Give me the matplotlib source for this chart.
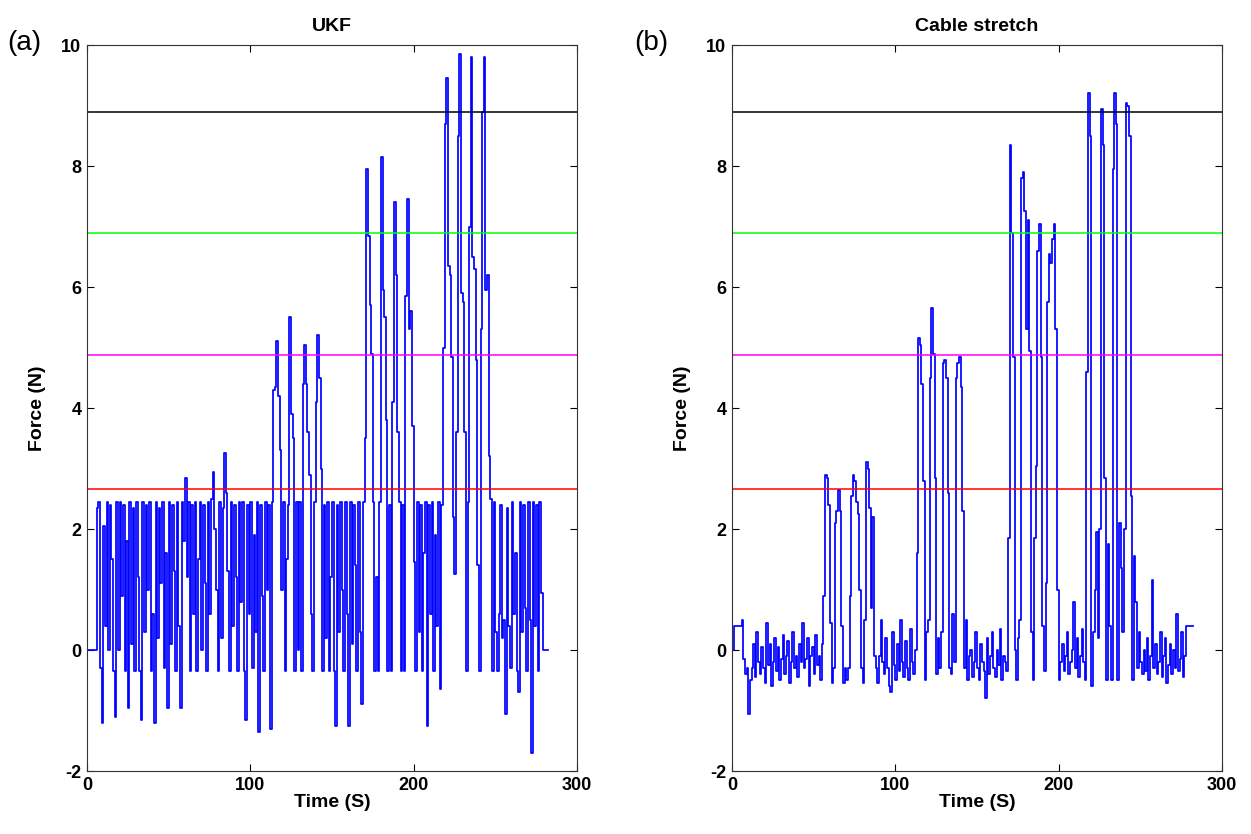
import numpy as np
import matplotlib.pyplot as plt

# --- force estimates, one value per second ---
ukf_force = [
    0, 0, 0, 0, 0, 0, 2.35, 2.45, -0.3, -1.2,
    2.05, 0.4, 2.45, 0, 2.4, 1.5, -0.35, -1.1, 2.45, 0,
    2.45, 0.9, 2.4, -0.35, 1.8, -0.95, 2.45, 0.1, 2.35, -0.35,
    2.45, 1.2, -0.35, -1.15, 2.45, 0.3, 2.4, 1.0, 2.45, -0.35,
    0.6, -1.2, 2.45, 0.2, 2.35, 1.1, 2.45, -0.3, 1.6, -0.95,
    2.45, 0.1, 2.4, 1.3, -0.35, 2.45, 0.4, -0.95, 2.45, 1.8,
    2.85, 1.2, 2.45, -0.35, 2.4, 0.6, 2.45, -0.35, 1.5, 2.45,
    0.0, 2.4, 1.1, -0.35, 2.45, 0.6, 2.5, 2.95, 2.0, 1.0,
    -0.35, 2.45, 0.2, 2.35, 3.25, 2.6, 1.3, -0.35, 2.45, 0.4,
    2.4, 1.2, -0.35, 2.45, 0.8, 2.45, -0.35, -1.15, 2.4, 0.6,
    2.45, -0.3, 1.9, 0.3, 2.45, -1.35, 2.4, 0.9, -0.35, 2.45,
    1.0, 2.4, -1.3, 2.45, 4.3, 4.35, 5.1, 4.2, 3.3, 1.0,
    2.45, -0.35, 1.5, 2.4, 5.5, 3.9, 3.5, -0.35, 2.45, 0.0,
    2.45, -0.35, 4.4, 5.05, 4.4, 3.6, 2.9, 0.6, -0.35, 2.45,
    4.1, 5.2, 4.5, 3.0, -0.35, 2.4, 0.2, 2.45, -0.35, 1.2,
    2.45, -0.35, -1.25, 2.4, 0.3, 2.45, 1.0, -0.35, 2.45, 0.6,
    -1.25, 2.45, 0.1, 2.4, 1.4, -0.35, 2.45, 0.3, -0.9, 2.45,
    3.5, 7.95, 6.85, 5.7, 4.9, 2.45, -0.35, 1.2, -0.35, 2.45,
    8.15, 5.95, 5.5, 3.8, -0.35, 2.4, -0.35, 4.1, 7.4, 6.2,
    3.6, 2.45, -0.35, 2.4, -0.35, 5.85, 7.45, 5.3, 5.6, 3.7,
    1.45, -0.35, 2.45, 0.3, 2.4, -0.35, 1.6, 2.45, -1.25, 2.4,
    0.6, 2.45, -0.35, 1.9, 0.4, 2.45, -0.65, 2.4, 5.0, 8.7,
    9.45, 6.35, 6.2, 4.85, 2.2, 1.25, 3.6, 8.5, 9.85, 5.9,
    5.75, 3.6, -0.35, 2.45, 7.0, 9.8, 6.5, 6.3, 4.8, 1.4,
    -0.35, 5.3, 8.9, 9.8, 5.95, 6.2, 3.2, 2.5, -0.35, 2.45,
    0.3, -0.35, 0.6, 2.4, 0.2, 0.5, -1.05, 2.35, 0.4, -0.3,
    2.45, 0.6, 1.6, -0.35, -0.7, 2.45, 0.3, 2.4, 0.7, -0.35,
    2.45, 0.5, -1.7, 2.45, 0.4, 2.4, -0.35, 2.45, 0.95, 0,
    0, 0, 0,
]

cable_force = [
    0.0, 0.4, 0.4, 0.4, 0.4, 0.4, 0.5, -0.15, -0.4, -0.3,
    -1.05, -0.5, -0.3, 0.1, -0.45, 0.3, -0.2, -0.4, 0.05, -0.3,
    -0.55, 0.45, -0.25, 0.1, -0.6, -0.2, 0.2, -0.35, 0.05, -0.5,
    -0.15, 0.25, -0.4, -0.1, 0.15, -0.55, -0.2, 0.3, -0.3, -0.1,
    -0.45, 0.1, -0.2, 0.45, -0.3, -0.15, 0.2, -0.6, -0.1, 0.05,
    -0.4, 0.25, -0.25, -0.1, -0.5, 0.1, 0.9, 2.9, 2.85, 2.4,
    0.45, -0.55, -0.3, 2.1, 2.3, 2.65, 2.3, 0.4, -0.55, -0.3,
    -0.5, -0.3, 0.9, 2.55, 2.9, 2.8, 2.45, 2.25, 1.0, -0.3,
    -0.55, 0.5, 3.1, 3.0, 2.35, 0.7, 2.2, -0.1, -0.3, -0.55,
    -0.1, 0.5, -0.2, -0.4, 0.2, -0.3, -0.6, -0.7, 0.3, -0.25,
    -0.5, 0.1, -0.35, 0.5, -0.2, -0.45, 0.15, -0.3, -0.5, 0.35,
    -0.2, -0.4, 0.0, 1.6, 5.15, 5.05, 4.4, 2.8, -0.5, 0.3,
    0.5, 4.5, 5.65, 4.9, 2.85, -0.4, 0.2, -0.3, 0.3, 4.75,
    4.8, 4.5, 2.6, -0.3, -0.4, 0.6, -0.2, 4.5, 4.75, 4.85,
    4.35, 2.3, -0.3, 0.5, -0.5, -0.1, 0.0, -0.45, -0.2, 0.3,
    -0.3, -0.5, 0.1, -0.2, -0.35, -0.8, 0.2, -0.4, -0.1, 0.3,
    -0.3, -0.45, 0.0, -0.25, 0.35, -0.5, -0.1, -0.2, -0.35, 1.85,
    8.35, 6.9, 4.85, 0.0, -0.5, 0.2, 0.5, 7.8, 7.9, 7.25,
    5.3, 7.1, 4.95, 0.3, -0.5, 1.85, 3.05, 6.6, 7.05, 4.85,
    0.4, -0.35, 1.1, 5.75, 6.55, 6.4, 6.8, 7.05, 5.3, 1.0,
    -0.5, -0.2, 0.1, -0.35, -0.1, 0.3, -0.4, -0.2, 0.0, 0.8,
    -0.3, 0.2, -0.45, -0.1, 0.35, -0.2, -0.5, 4.6, 9.2, 8.5,
    -0.6, 0.3, 1.0, 1.95, 0.2, 2.0, 8.95, 8.35, 2.85, -0.5,
    1.75, 0.4, -0.5, 7.95, 9.2, 8.7, -0.5, 2.1, 1.35, 0.3,
    2.0, 9.05, 9.0, 8.5, 2.55, -0.5, 1.55, 0.8, -0.3, 0.3,
    -0.2, -0.4, 0.0, -0.35, 0.2, -0.5, -0.1, 1.15, -0.3, 0.1,
    -0.4, -0.2, 0.3, -0.45, -0.1, 0.2, -0.55, -0.25, 0.1, -0.4,
    0.0, -0.3, 0.6, -0.35, -0.15, 0.3, -0.45, -0.1, 0.4, 0.4,
    0.4, 0.4, 0.4,
]

# threshold levels (N)
levels = [8.9, 6.9, 4.87, 2.66]
level_colors = ['black', '#00ff00', '#ff00ff', '#ff0000']

titles = ['UKF', 'Cable stretch']
panel_tags = ['(a)', '(b)']

plt.rcParams['font.family'] = ['Liberation Sans', 'DejaVu Sans']
plt.rcParams['axes.unicode_minus'] = False

fig = plt.figure(figsize=(12.51, 8.34), dpi=100)
ax_a = fig.add_axes([0.0695, 0.0755, 0.3917, 0.8705])
ax_b = fig.add_axes([0.5851, 0.0755, 0.3917, 0.8705])

for ax, force, title in zip([ax_a, ax_b], [ukf_force, cable_force], titles):
    t = np.arange(len(force))
    ax.plot(t, force, color='blue', lw=1.25, drawstyle='steps-post')
    for lvl, col in zip(levels, level_colors):
        ax.axhline(lvl, color=col, lw=1.1)

    ax.set_xlim(0, 300)
    ax.set_ylim(-2, 10)
    ax.set_xticks([0, 100, 200, 300])
    ax.set_yticks([-2, 0, 2, 4, 6, 8, 10])
    ax.tick_params(direction='in', top=True, right=True, length=5,
                   labelsize=13, width=0.8, pad=4)
    for lab in ax.get_xticklabels() + ax.get_yticklabels():
        lab.set_fontweight('bold')
    for sp in ax.spines.values():
        sp.set_linewidth(0.8)
        sp.set_color('#333333')

    ax.set_xlabel('Time (S)', fontsize=14, fontweight='bold', labelpad=0)
    ax.set_ylabel('Force (N)', fontsize=14, fontweight='bold', labelpad=11)
    ax.set_title(title, fontsize=14, fontweight='bold', pad=10)

fig.text(0.006, 0.948, panel_tags[0], fontsize=20, ha='left', va='center')
fig.text(0.507, 0.948, panel_tags[1], fontsize=20, ha='left', va='center')

fig.savefig('out.png', dpi=100)
